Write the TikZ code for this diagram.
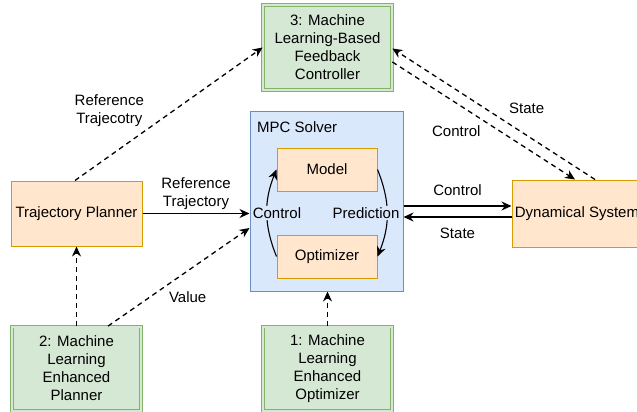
\documentclass[tikz,border=0pt]{standalone}
\usepackage{fontspec}
\setmainfont{Liberation Sans}
\usetikzlibrary{arrows.meta,calc}
\definecolor{ofill}{HTML}{FFE6CC}\definecolor{odraw}{HTML}{D79B00}
\definecolor{bfill}{HTML}{DAE8FC}\definecolor{bdraw}{HTML}{6C8EBF}
\definecolor{gfill}{HTML}{D5E8D4}\definecolor{gdraw}{HTML}{82B366}
\tikzset{
  box/.style={draw, line width=1pt, inner sep=0pt, align=center, font=\fontsize{15}{18}\selectfont},
  obox/.style={box, fill=ofill, draw=odraw},
  gbox/.style={box, draw=gdraw, double=gfill, double distance=2pt, line width=0.8pt, fill=gfill},
  lbl/.style={font=\fontsize{15}{18}\selectfont, align=center, inner sep=1pt},
  arr/.style={line width=1.3pt, -{Stealth[length=10pt,width=9pt]}},
  darr/.style={arr, dash pattern=on 5pt off 4pt},
}
\begin{document}
\begin{tikzpicture}[x=1pt,y=-1pt]
\useasboundingbox (0,0) rectangle (637,412);
\node[gbox, minimum width=129pt, minimum height=85pt] (b3) at (327.5,47.5) {3: Machine\\Learning-Based\\Feedback\\Controller};
\node[box, fill=bfill, draw=bdraw, minimum width=153pt, minimum height=180pt] (mpc) at (326.5,201) {};
\node[lbl, anchor=west] (mpct) at (256,127) {MPC Solver};
\node[obox, minimum width=100pt, minimum height=43pt] (model) at (327,169.5) {Model};
\node[obox, minimum width=100pt, minimum height=43pt] (opt) at (327,256.5) {Optimizer};
\node[obox, minimum width=130pt, minimum height=67pt] (ds) at (577,213.5) {Dynamical System};
\node[obox, minimum width=131pt, minimum height=65pt] (tp) at (76.5,213.5) {Trajectory Planner};
\node[gbox, minimum width=129pt, minimum height=84pt] (b2) at (76.5,368.5) {2: Machine\\Learning\\Enhanced\\Planner};
\node[gbox, minimum width=129pt, minimum height=84pt] (b1) at (327.5,368.5) {1: Machine\\Learning\\Enhanced\\Optimizer};

% planner -> MPC
\draw[arr] (tp.east) -- (tp.east -| mpc.west) node[lbl, midway, yshift=19.5pt] (l1) {Reference\\Trajectory};
% box2 -> planner
\draw[darr] (b2.north -| tp.south) -- (tp.south);
% box2 -> MPC (value)
\coordinate (v1) at ($(b2.north)+(31.5,0)$);
\coordinate (v2) at ($(mpc.west)+(0,27)$);
\draw[darr] (v1) -- (v2) node[lbl, pos=0.563, yshift=-26pt] (l2) {Value};
% planner -> box3
\coordinate (r1) at ($(tp.north)+(-1.5,0)$);
\draw[darr] (r1) -- (b3.west) node[lbl, pos=0.183, yshift=46pt] (l3) {Reference\\Trajecotry};
% box1 -> MPC
\draw[darr] (b1.north) -- (b1.north |- mpc.south);
% internal arcs
\draw[arr, line width=1.1pt] (opt.west) to[bend left=22] node[lbl, midway, xshift=10pt, fill=bfill] (l4) {Control} (model.west);
\draw[arr, line width=1.1pt] (model.east) to[bend left=22] node[lbl, midway, xshift=-21pt, fill=bfill] (l5) {Prediction} (opt.east);
% MPC <-> DS
\draw[arr] ([yshift=-5pt]mpc.east) -- ([yshift=-5pt]mpc.east -| ds.west) node[lbl, midway, yshift=16pt] (l6) {Control};
\draw[arr] ([yshift=-16pt]mpc.east -| ds.west) -- ([yshift=-16pt]mpc.east) node[lbl, midway, yshift=-16pt] (l7) {State};
% box3 <-> DS dashed
\draw[darr] ([yshift=-14.5pt]b3.east) -- ([xshift=-2pt]ds.north) node[lbl, pos=0.35, yshift=-28.5pt] (l8) {Control};
\draw[darr] ([xshift=18pt]ds.north) -- ([yshift=-1pt]b3.east) node[lbl, pos=0.337, yshift=27pt] (l9) {State};
\end{tikzpicture}
\end{document}
